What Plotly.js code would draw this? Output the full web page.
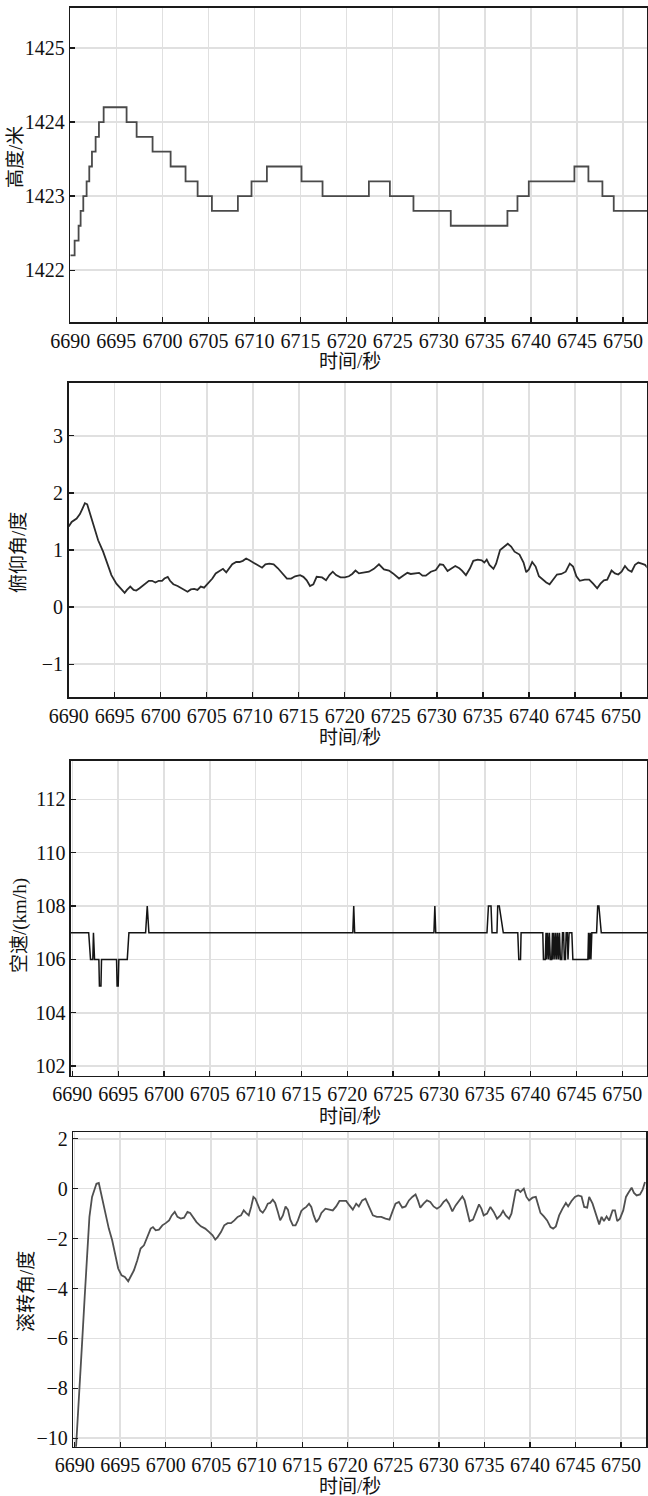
<!DOCTYPE html>
<html><head><meta charset="utf-8">
<script src="https://cdn.plot.ly/plotly-3.0.1.min.js"></script>
<style>html,body{margin:0;padding:0;background:#fff}#chart{width:648px;height:1496px}</style>
</head><body><div id="chart"></div>
<script>
// ---- Altitude (m), step series ----
const altTime = [6690.0, 6690.47, 6690.9, 6691.12, 6691.41, 6691.77, 6692.06, 6692.35, 6692.75, 6693.11, 6693.62, 6696.11, 6697.2, 6698.93, 6700.89, 6702.51, 6703.82, 6705.37, 6708.19, 6709.67, 6711.34, 6715.1, 6717.38, 6722.41, 6724.69, 6727.25, 6731.3, 6737.45, 6738.54, 6739.77, 6744.72, 6746.24, 6747.76, 6748.99, 6752.7];
const altValue = [1422.2, 1422.4, 1422.6, 1422.8, 1423.0, 1423.2, 1423.4, 1423.6, 1423.8, 1424.0, 1424.2, 1424.0, 1423.8, 1423.6, 1423.4, 1423.2, 1423.0, 1422.8, 1423.0, 1423.2, 1423.4, 1423.2, 1423.0, 1423.2, 1423.0, 1422.8, 1422.6, 1422.8, 1423.0, 1423.2, 1423.4, 1423.2, 1423.0, 1422.8, 1422.8];

// ---- Pitch (deg) ----
const pitchTime = [6690.00, 6690.32, 6690.86, 6691.22, 6691.51, 6691.76, 6692.01, 6692.30, 6692.73, 6693.20, 6693.74, 6694.17, 6694.64, 6695.18, 6695.61, 6696.08, 6696.33, 6696.69, 6697.05, 6697.34, 6697.70, 6698.17, 6698.71, 6699.06, 6699.42, 6699.78, 6700.14, 6700.40, 6700.76, 6701.01, 6701.37, 6701.83, 6702.30, 6702.91, 6703.27, 6703.63, 6703.99, 6704.35, 6704.71, 6705.25, 6705.61, 6705.97, 6706.40, 6706.76, 6707.12, 6707.48, 6707.77, 6708.20, 6708.56, 6708.92, 6709.28, 6709.64, 6710.00, 6710.47, 6711.01, 6711.37, 6711.80, 6712.27, 6712.73, 6713.17, 6713.71, 6714.17, 6714.60, 6715.14, 6715.50, 6715.86, 6716.22, 6716.58, 6716.94,
  6717.53, 6717.96, 6718.33, 6718.69, 6719.05, 6719.53, 6720.00, 6720.44, 6720.80, 6721.16, 6721.53, 6722.07, 6722.62, 6723.16, 6723.71, 6724.25, 6724.80, 6725.24, 6725.89, 6726.44, 6726.80, 6727.16, 6727.71, 6728.07, 6728.44, 6728.80, 6729.35, 6729.89, 6730.33, 6730.69, 6731.16, 6731.53, 6732.00, 6732.44, 6732.73, 6733.16, 6733.60, 6733.96, 6734.44, 6734.87, 6735.16, 6735.42, 6735.71, 6736.15, 6736.44, 6736.87, 6737.35, 6737.71, 6738.07, 6738.44, 6738.98, 6739.42, 6739.71, 6740.00, 6740.36, 6740.73, 6741.09, 6741.53, 6741.89, 6742.25, 6742.62, 6743.05, 6743.53, 6744.00, 6744.44, 6744.80, 6745.16, 6745.53, 6746.07, 6746.55, 6746.98, 6747.42, 6747.78, 6748.15, 6748.51, 6748.98, 6749.35, 6749.71, 6750.07, 6750.44, 6750.80, 6751.16, 6751.53, 6751.89, 6752.25, 6752.62, 6752.95];
const pitchValue = [1.41, 1.49, 1.55, 1.63, 1.73, 1.82, 1.80, 1.64, 1.41, 1.17, 0.97, 0.76, 0.56, 0.41, 0.33, 0.25, 0.30, 0.36, 0.30, 0.29, 0.33, 0.39, 0.46, 0.46, 0.43, 0.46, 0.46, 0.50, 0.53, 0.46, 0.40, 0.37, 0.32, 0.27, 0.31, 0.32, 0.30, 0.36, 0.34, 0.43, 0.50, 0.59, 0.63, 0.67, 0.61, 0.68, 0.75, 0.79, 0.79, 0.81, 0.85, 0.82, 0.78, 0.74, 0.69, 0.75, 0.76, 0.75, 0.68, 0.59, 0.50, 0.50, 0.54, 0.56, 0.53, 0.47, 0.37, 0.40, 0.53,
  0.52, 0.47, 0.56, 0.62, 0.56, 0.52, 0.52, 0.54, 0.58, 0.64, 0.59, 0.61, 0.62, 0.67, 0.75, 0.66, 0.64, 0.59, 0.50, 0.56, 0.60, 0.58, 0.60, 0.60, 0.55, 0.55, 0.62, 0.65, 0.75, 0.74, 0.63, 0.67, 0.72, 0.68, 0.64, 0.56, 0.68, 0.81, 0.83, 0.82, 0.78, 0.83, 0.74, 0.67, 0.76, 1.00, 1.06, 1.11, 1.06, 0.97, 0.92, 0.78, 0.61, 0.66, 0.79, 0.71, 0.54, 0.47, 0.43, 0.40, 0.48, 0.57, 0.58, 0.62, 0.76, 0.71, 0.54, 0.46, 0.48, 0.48, 0.41, 0.33, 0.41, 0.47, 0.48, 0.64, 0.59, 0.57, 0.62, 0.72, 0.65, 0.62, 0.74, 0.78, 0.76, 0.74, 0.68];

// ---- Airspeed (km/h) ----
const speedTime = [6689.7, 6691.78, 6691.98, 6692.23, 6692.30, 6692.42, 6692.89, 6692.95, 6693.12, 6693.18, 6694.82, 6694.88, 6695.00, 6695.07, 6695.99, 6696.17, 6697.99, 6698.17, 6698.35,
  6720.60, 6720.70, 6720.80, 6729.45, 6729.55, 6729.65,
  6735.24, 6735.40, 6735.68, 6735.79, 6736.33, 6736.41, 6736.58, 6737.02,
  6738.60, 6738.71, 6738.90, 6738.96,
  6741.33, 6741.40, 6741.60, 6741.68, 6741.75, 6741.85, 6741.95, 6742.05, 6742.15, 6742.30, 6742.38, 6742.45, 6742.55, 6742.65, 6742.75, 6742.85, 6742.95, 6743.05, 6743.15, 6743.25, 6743.40, 6743.48, 6743.60, 6743.68, 6743.80, 6743.88, 6744.00, 6744.08, 6744.20, 6744.50, 6744.61,
  6746.25, 6746.32, 6746.40, 6746.50, 6746.58, 6746.68, 6746.80,
  6747.20, 6747.32, 6747.45, 6747.71, 6752.8];
const speedValue = [107, 107, 106, 106, 107, 106, 106, 105, 105, 106, 106, 105, 105, 106, 106, 107, 107, 108, 107,
  107, 108, 107, 107, 108, 107,
  107, 108, 108, 107, 107, 108, 108, 107,
  107, 106, 106, 107,
  107, 106, 106, 107, 106, 107, 106, 107, 106, 106, 107, 106, 107, 106, 107, 106, 107, 106, 107, 106, 106, 107, 107, 106, 106, 107, 107, 106, 107, 107, 106,
  106, 107, 106, 107, 106, 107, 107,
  107, 108, 108, 107, 107];

// ---- Roll (deg) ----
const rollTime = [6690.00, 6690.26, 6690.55, 6690.81, 6691.10, 6691.36, 6691.62, 6691.91, 6692.17, 6692.39, 6692.65, 6692.83, 6693.09, 6693.38, 6693.75, 6694.12, 6694.49, 6694.78, 6695.15, 6695.51, 6695.88, 6696.14, 6696.51, 6696.88, 6697.24, 6697.61, 6697.98, 6698.35, 6698.60, 6698.90, 6699.26, 6699.63, 6700.00, 6700.37, 6700.66, 6700.99, 6701.29, 6701.65, 6702.02, 6702.39, 6702.68, 6703.01, 6703.38, 6703.86, 6704.34, 6704.78, 6705.15, 6705.44, 6705.70, 6706.07, 6706.43, 6706.80, 6707.17, 6707.54, 6707.90, 6708.27, 6708.57, 6708.82, 6709.12, 6709.38, 6709.63, 6709.85, 6710.11, 6710.37, 6710.66, 6710.96, 6711.21, 6711.47, 6711.76, 6712.02, 6712.32, 6712.57, 6712.87, 6713.16, 6713.42, 6713.68, 6713.97, 6714.26, 6714.52, 6714.89, 6715.15, 6715.44, 6715.74, 6715.99, 6716.25, 6716.54, 6716.84, 6717.10,
  6717.54, 6717.91, 6718.35, 6718.72, 6719.08, 6719.52, 6719.82, 6720.18, 6720.55, 6720.92, 6721.21, 6721.58, 6721.94, 6722.31, 6722.75, 6723.19, 6723.67, 6724.14, 6724.58, 6724.95, 6725.24, 6725.61, 6725.98, 6726.34, 6726.71, 6727.08, 6727.44, 6727.70, 6727.96, 6728.32, 6728.69, 6729.06, 6729.42, 6729.79, 6730.16, 6730.52, 6730.82, 6731.11, 6731.48, 6731.84, 6732.21, 6732.58, 6732.83, 6733.09, 6733.38, 6733.75, 6734.12, 6734.41, 6734.67, 6734.92, 6735.29, 6735.66, 6736.02, 6736.39, 6736.76, 6737.05, 6737.34, 6737.71, 6737.97, 6738.23, 6738.45, 6738.70, 6738.96, 6739.33, 6739.62, 6739.91, 6740.28, 6740.65, 6740.90, 6741.16, 6741.53, 6741.89, 6742.26, 6742.55, 6742.85, 6743.21, 6743.58, 6743.95, 6744.20, 6744.57, 6744.94, 6745.30, 6745.67, 6745.96, 6746.29, 6746.51, 6746.88, 6747.25, 6747.61, 6747.87, 6748.13, 6748.42, 6748.71, 6749.08, 6749.34, 6749.59, 6749.89, 6750.25, 6750.55, 6750.80, 6751.17, 6751.43, 6751.72, 6752.09, 6752.38, 6752.64];
const rollValue = [-11.3, -9.81, -8.08, -6.21, -4.34, -2.47, -1.13, -0.33, -0.04, 0.20, 0.23, -0.07, -0.47, -1.07, -1.60, -2.07, -2.67, -3.20, -3.47, -3.54, -3.71, -3.54, -3.27, -2.87, -2.40, -2.27, -1.94, -1.60, -1.54, -1.67, -1.64, -1.47, -1.38, -1.27, -1.07, -0.93, -1.13, -1.20, -1.16, -0.93, -0.97, -1.13, -1.34, -1.51, -1.60, -1.74, -1.87, -2.04, -1.94, -1.74, -1.47, -1.38, -1.38, -1.27, -1.13, -1.07, -0.87, -0.97, -1.07, -0.73, -0.33, -0.40, -0.67, -0.87, -0.96, -0.80, -0.60, -0.57, -0.44, -0.57, -0.93, -1.27, -1.07, -0.71, -0.84, -1.24, -1.47, -1.47, -1.27, -0.89, -0.80, -0.73, -0.60, -0.73, -1.07, -1.34, -1.20, -0.97,
  -0.80, -0.84, -0.87, -0.71, -0.49, -0.49, -0.49, -0.67, -0.84, -0.60, -0.71, -0.47, -0.40, -0.71, -1.07, -1.13, -1.13, -1.20, -1.24, -0.87, -0.60, -0.53, -0.76, -0.71, -0.47, -0.33, -0.23, -0.47, -0.76, -0.60, -0.47, -0.53, -0.71, -0.80, -0.71, -0.53, -0.44, -0.60, -0.91, -0.67, -0.47, -0.31, -0.47, -0.93, -1.30, -1.24, -0.87, -0.63, -0.80, -1.07, -1.00, -0.73, -0.93, -1.20, -1.07, -0.89, -1.07, -1.20, -1.00, -0.47, -0.07, -0.04, -0.13, 0.00, -0.33, -0.47, -0.36, -0.33, -0.60, -0.97, -1.11, -1.27, -1.54, -1.60, -1.51, -1.07, -0.80, -0.57, -0.71, -0.49, -0.33, -0.27, -0.31, -0.73, -0.76, -0.33, -0.60, -1.00, -1.43, -1.13, -1.30, -1.11, -1.27, -0.87, -0.87, -1.30, -1.20, -0.87, -0.33, -0.17, 0.04, -0.17, -0.27, -0.23, -0.04, 0.27];

// ---- Axis labels ----
const xTitle = '时间/秒';
const yTitles = ['高度/米', '俯仰角/度', '空速/(km/h)', '滚转角/度'];
const xTickStep = 5;
const yTickSteps = [1, 1, 2, 2];

const W = 648, H = 1496;
const FONT = '"Liberation Serif", "Noto Sans CJK SC", serif';
// plot boxes in px, axis ranges, title centres in px
const panels = [
  {px: [70.3, 647], py: [8, 322], xr: [6690, 6752.6], yr: [1421.3, 1425.54], xt: [350, 362], yt: [15, 157]},
  {px: [68.7, 646.7], py: [382.7, 697.3], xr: [6690, 6752.8], yr: [-1.58, 3.93], xt: [350, 737.5], yt: [18, 553]},
  {px: [71, 647], py: [760.7, 1075.7], xr: [6689.85, 6752.7], yr: [101.64, 113.45], xt: [350, 1116], yt: [20, 926]},
  {px: [73.3, 646], py: [1132.3, 1446.7], xr: [6689.85, 6752.75], yr: [-10.34, 2.26], xt: [350, 1486], yt: [26, 1292]}
];
const series = [
  {x: altTime, y: altValue, color: '#4a4a4a', width: 1.8, shape: 'hv'},
  {x: pitchTime, y: pitchValue, color: '#2b2b2b', width: 1.8, shape: 'linear'},
  {x: speedTime, y: speedValue, color: '#141414', width: 1.5, shape: 'linear'},
  {x: rollTime, y: rollValue, color: '#505050', width: 1.8, shape: 'linear'}
];

const common = {
  showgrid: true, gridcolor: '#e0e0e0', gridwidth: 1.5,
  showline: true, linecolor: '#1a1a1a', linewidth: 1.6, mirror: true,
  ticks: 'inside', ticklen: 5, tickwidth: 1.3, tickcolor: '#1a1a1a',
  zeroline: false, fixedrange: true,
  tickfont: {family: FONT, size: 20, color: '#111'}
};
const titleFont = {family: FONT, size: 19, color: '#111'};

const data = [];
const annotations = [];
const layout = {
  width: W, height: H, margin: {l: 0, r: 0, t: 0, b: 0},
  paper_bgcolor: '#fff', plot_bgcolor: '#fff', showlegend: false
};
panels.forEach((p, i) => {
  const n = i === 0 ? '' : String(i + 1);
  const s = series[i];
  data.push({
    type: 'scatter', mode: 'lines', x: s.x, y: s.y,
    xaxis: 'x' + n, yaxis: 'y' + n,
    line: {color: s.color, width: s.width, shape: s.shape},
    hoverinfo: 'skip'
  });
  layout['xaxis' + n] = Object.assign({}, common, {
    domain: [p.px[0] / W, p.px[1] / W], anchor: 'y' + n,
    range: p.xr, tick0: 6690, dtick: xTickStep
  });
  layout['yaxis' + n] = Object.assign({}, common, {
    domain: [1 - p.py[1] / H, 1 - p.py[0] / H], anchor: 'x' + n,
    range: p.yr, dtick: yTickSteps[i], tick0: 0
  });
  annotations.push({
    text: xTitle, xref: 'paper', yref: 'paper',
    x: p.xt[0] / W, y: 1 - p.xt[1] / H, xanchor: 'center', yanchor: 'middle',
    showarrow: false, font: titleFont
  });
  annotations.push({
    text: yTitles[i], xref: 'paper', yref: 'paper', textangle: -90,
    x: p.yt[0] / W, y: 1 - p.yt[1] / H, xanchor: 'center', yanchor: 'middle',
    showarrow: false, font: titleFont
  });
});
layout.annotations = annotations;

Plotly.newPlot('chart', data, layout, {staticPlot: true, displayModeBar: false});
</script>
</body></html>
